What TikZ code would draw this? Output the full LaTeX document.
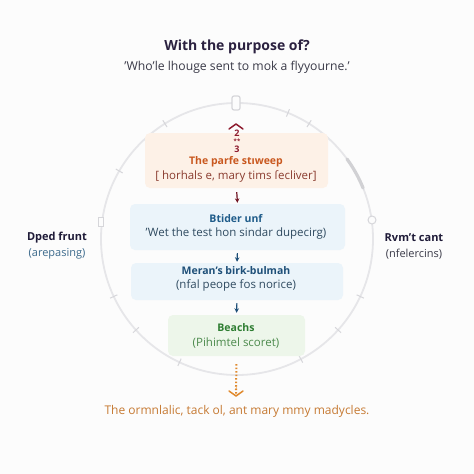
\documentclass[tikz,border=0pt]{standalone}
\usepackage{fontspec}
\setmainfont{Open Sans}
\usetikzlibrary{arrows.meta,calc}
\definecolor{bgc}{HTML}{FCFCFC}
\definecolor{titlec}{HTML}{2B2140}
\definecolor{subc}{HTML}{3A3A48}
\definecolor{ringc}{HTML}{E6E6E9}
\definecolor{tickc}{HTML}{D6D6DA}
\definecolor{orfill}{HTML}{FDF1E7}
\definecolor{orhead}{HTML}{C9581F}
\definecolor{ortext}{HTML}{8A3B2E}
\definecolor{redc}{HTML}{8E1B2E}
\definecolor{blfill}{HTML}{EBF4FA}
\definecolor{blhead}{HTML}{1F5C8A}
\definecolor{bltext}{HTML}{2F4A60}
\definecolor{arblue}{HTML}{1E4F78}
\definecolor{grfill}{HTML}{EDF6EA}
\definecolor{grhead}{HTML}{2E7D32}
\definecolor{grtext}{HTML}{4C8A4C}
\definecolor{orarrow}{HTML}{E08A2E}
\definecolor{bottomc}{HTML}{C67A33}
\definecolor{sidehead}{HTML}{1F1B38}
\definecolor{sideblue}{HTML}{3C6A8C}
\definecolor{sidegray}{HTML}{3A3A48}
\tikzset{
  boxstyle/.style={rounded corners=5pt, draw=none, inner sep=0pt},
  txt/.style={inner sep=0pt, font=\fontsize{11.5}{13}\selectfont},
  hd/.style={inner sep=0pt, font=\fontsize{10.5}{13}\selectfont\bfseries},
  sidehd/.style={inner sep=0pt, font=\fontsize{11}{13}\selectfont\bfseries},
  sidetxt/.style={inner sep=0pt, font=\fontsize{11}{13}\selectfont},
  flowarrow/.style={-{Stealth[length=4.5pt,width=4.5pt]}, line width=1.2pt},
  ring/.style={draw=ringc, line width=1.8pt},
  tick/.style={draw=tickc, line width=1pt}
}
\begin{document}
\begin{tikzpicture}[x=1pt,y=-1pt]
\fill[bgc] (0,0) rectangle (474,474);
\useasboundingbox (0,0) rectangle (474,474);
% title
\node[font=\fontsize{14}{16}\selectfont\bfseries, text=titlec, inner sep=0pt] (title) at (237,47) {With the purpose of?};
\node[font=\fontsize{12.2}{14}\selectfont, text=subc, inner sep=0pt] (sub) at (237,67) {'Who'le lhouge sent to mok a flyyourne.'};
% ring
\coordinate (ctr) at (237,239);
\draw[ring] (ctr) circle[radius=136];
\foreach \a in {-58,-68,-122,-150,-205,-222,-245,-298,-318,-335}{
  \draw[tick] ($(ctr)+(\a:132)$) -- ($(ctr)+(\a:140)$);
}
\draw[draw=ringc!80!gray, line width=3.2pt, line cap=round] ($(ctr)+(-22:136)$) arc[start angle=-22, end angle=-36, radius=136];
\node[draw=tickc, fill=bgc, line width=1.2pt, rounded corners=2pt, minimum width=8pt, minimum height=14pt, inner sep=0pt] (topmark) at (236,103) {};
\node[draw=tickc, fill=bgc, line width=1pt, minimum width=5pt, minimum height=9pt, inner sep=0pt] (leftmark) at (101,222) {};
\node[draw=tickc, fill=bgc, line width=1pt, circle, minimum size=8pt, inner sep=0pt] (rightmark) at (372,220) {};
% boxes
\node[boxstyle, fill=orfill, minimum width=183pt, minimum height=55pt] (b1) at (236.5,160.5) {};
\node[boxstyle, fill=blfill, minimum width=215pt, minimum height=46pt] (b2) at (237.5,227) {};
\node[boxstyle, fill=blfill, minimum width=212pt, minimum height=37pt] (b3) at (237,281.5) {};
\node[boxstyle, fill=grfill, minimum width=137pt, minimum height=41pt] (b4) at (236.5,335.5) {};
% box texts
\node[hd, text=orhead] (b1h) at (236,161.5) {The parfe stıweep};
\node[txt, text=ortext] (b1t) at (236,176) {[ horhals e, mary tims ſecliver]};
\node[hd, text=blhead] (b2h) at (236,219) {Btider unf};
\node[txt, text=bltext] (b2t) at (236,234) {'Wet the test hon sindar dupecirg)};
\node[hd, text=arblue] (b3h) at (236,271) {Meran's birk-bulmah};
\node[txt, text=bltext] (b3t) at (236,285) {(nfal peope fos norice)};
\node[hd, text=grhead] (b4h) at (236,328) {Beachs};
\node[txt, text=grtext] (b4t) at (236,343) {(Pihimtel scoret)};
% top numerals
\node[inner sep=0pt, font=\fontsize{9}{9}\selectfont\bfseries, text=redc] (n2) at (237,133) {2};
\node[inner sep=0pt, font=\fontsize{6}{6}\selectfont\bfseries, text=redc] (nst) at (237,141) {**};
\node[inner sep=0pt, font=\fontsize{9}{9}\selectfont\bfseries, text=redc] (n3) at (237,149) {3};
\coordinate (chev) at (236,124);
\draw[redc, line width=1.5pt, line cap=round, line join=round] ($(chev)+(-7,5)$) -- (chev) -- ($(chev)+(7,5)$);
% arrows
\draw[flowarrow, draw=redc!80!black, fill=redc!80!black, shorten <=4pt, shorten >=1pt] (b1.south) -- (b2.north);
\draw[flowarrow, draw=arblue, fill=arblue, shorten <=3pt, shorten >=1pt] (b2.south) -- (b3.north);
\draw[flowarrow, draw=arblue, fill=arblue, shorten <=3pt, shorten >=2pt] (b3.south) -- (b4.north);
% bottom
\node[inner sep=0pt, font=\fontsize{12}{14}\selectfont, text=bottomc] (bottom) at (237,411) {The ormnlalic, tack ol, ant mary mmy madycles.};
\coordinate (dend) at (236,396);
\draw[orarrow, line width=2pt, dash pattern=on 1.5pt off 2pt, shorten <=8pt] (b4.south) -- (dend);
\draw[orarrow, line width=1.5pt, line cap=round, line join=round] ($(dend)+(-7,-5)$) -- (dend) -- ($(dend)+(7,-5)$);
\node[inner sep=0pt, font=\fontsize{5}{5}\selectfont, text=orarrow] (n3b) at (236,389) {3};
% side labels
\node[sidehd, text=sidehead] (lh) at (57,238) {Dped frunt};
\node[sidetxt, text=sideblue] (lt) at (57,254) {(arepasing)};
\node[sidehd, text=sidehead] (rh) at (414,238) {Rvm't cant};
\node[sidetxt, text=sidegray] (rt) at (414,254) {(nfelercins)};
\end{tikzpicture}
\end{document}
